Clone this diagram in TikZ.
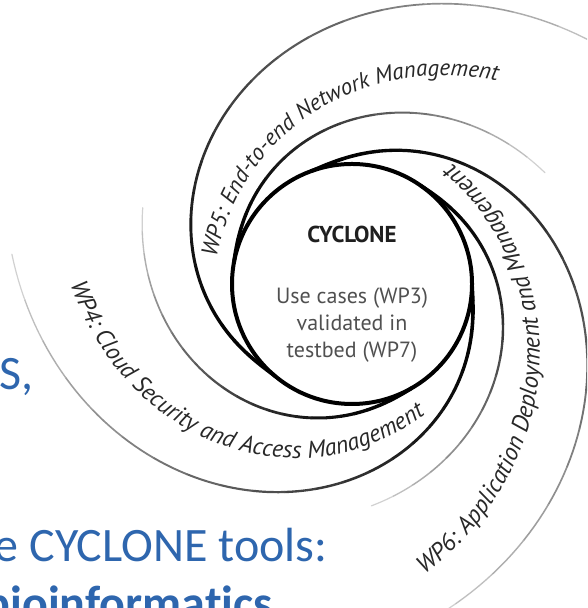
\documentclass[tikz,border=0pt]{standalone}
\usepackage{fontspec}
\setmainfont{Carlito}[Ligatures=NoCommon]
\newfontfamily\diafont{PT Sans}
\usetikzlibrary{decorations.text}

\definecolor{slideblue}{RGB}{46,102,174}
\definecolor{hubgrey}{RGB}{80,80,80}
\definecolor{labelgrey}{RGB}{40,40,40}

\newcommand{\armfont}{\diafont\itshape\fontsize{12.2}{14}\selectfont}

% one edge of a spiral arm: start angle, growth, sweep (deg)
\newcommand{\armedge}[3]{%
  \foreach \k in {0,...,23} {
    \pgfmathsetmacro{\ta}{#3*\k/24}
    \pgfmathsetmacro{\tb}{#3*(\k+1)/24}
    \pgfmathsetmacro{\shade}{100-82*(\k/23)^2}
    \pgfmathsetmacro{\lw}{1.9-1.3*\k/23}
    \draw[black!\shade, line width=\lw pt, line cap=round]
      plot[domain=\ta:\tb, samples=6] ({#1-\x}:{120+#2*\x*sqrt(\x)});
  }%
}

\tikzset{
  armtext/.style={decorate, decoration={text along path, text align=left,
      text color=labelgrey, text={|\armfont|#1}}},
  slidetext/.style={text=slideblue, inner sep=0pt, font=\fontsize{24}{28}\selectfont}
}

\begin{document}
\begin{tikzpicture}[x=0.5pt, y=0.5pt,
    hub/.style={circle, draw=black, line width=2pt, minimum size=120pt, inner sep=0pt, outer sep=0pt}
]
    \useasboundingbox (0,0) rectangle (587,608);
    \clip (0,0) rectangle (587,608);
    \fill[white] (0,0) rectangle (587,608);

    % slide text behind the cyclone
    \node[slidetext, anchor=base east] (saas) at (34,218) {aS,};
    \node[slidetext, anchor=base east] (tools) at (328,46) {e CYCLONE tools:};
    \node[slidetext, font=\fontsize{24}{28}\selectfont\bfseries, anchor=base east] (bio) at (273,-11) {bioinformatics};

    \begin{scope}[shift={(352,324)}]
        % WP5 arm
        \armedge{230}{0.088}{195}
        \armedge{170}{0.062}{140}
        % WP6 arm
        \armedge{110}{0.088}{190}
        \armedge{55}{0.062}{140}
        % WP4 arm
        \armedge{360}{0.088}{185}
        \armedge{300}{0.062}{140}

        % labels along the arms
        \path[decorate, decoration={text along path, text align=left, text color=labelgrey,
                text={|\diafont\itshape\fontsize{11.5}{14}\selectfont|WP5: End-to-end Network Management}}]
            plot[domain=0:200, samples=120] ({169-\x}:{138+0.0085*\x*\x});
        \path[armtext={WP6: Application Deployment and Management}]
            plot[domain=125:-30, samples=120] ({49-\x}:{156+0.0092*max(\x,0)*max(\x,0)});
        \path[decorate, decoration={text along path, text align=left, text color=labelgrey,
                text={|\diafont\itshape\fontsize{12}{14}\selectfont|WP4: Cloud Security and Access Management}}]
            plot[domain=120:-30, samples=120] ({300-\x}:{150+0.1*max(\x,0)*sqrt(max(\x,0))});
    \end{scope}

    % centre
    \node[hub] (hub) at (352,324) {};
    \node[font=\diafont\bfseries\fontsize{11.5}{14}\selectfont, text=black!88, anchor=base] (title) at (352,365) {CYCLONE};
    \node[font=\diafont\fontsize{11}{13.5}\selectfont, text=hubgrey, align=center] (usecases) at (352,283) {Use cases (WP3)\\validated in\\testbed (WP7)};
\end{tikzpicture}
\end{document}
